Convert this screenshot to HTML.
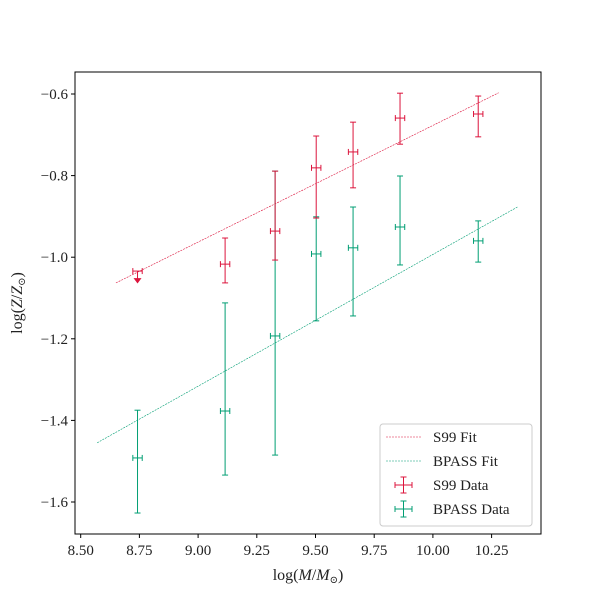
<!DOCTYPE html>
<html><head><meta charset="utf-8"><style>
body{margin:0;background:#fff}
svg text{font-family:"Liberation Serif","DejaVu Serif",serif;fill:#222}
</style></head><body>
<svg id="c" width="600" height="600" xmlns="http://www.w3.org/2000/svg">
<rect x="0" y="0" width="600" height="600" fill="#fff"/>
<g id="plot"></g>
</svg>
<script>
const xs=[8.742,9.115,9.328,9.503,9.66,9.86,10.193];
const s99Y=[-1.034,-1.017,-0.936,-0.781,-0.742,-0.659,-0.649];
const s99Hi=[-1.034,-0.953,-0.789,-0.703,-0.669,-0.598,-0.605];
const s99Lo=[-1.06,-1.063,-1.007,-0.904,-0.830,-0.723,-0.705];
const bpY=[-1.492,-1.377,-1.193,-0.992,-0.977,-0.926,-0.960];
const bpHi=[-1.375,-1.112,-0.789,-0.901,-0.877,-0.801,-0.911];
const bpLo=[-1.627,-1.534,-1.485,-1.156,-1.144,-1.019,-1.012];
const xErr=0.02;
const s99Fit=[[8.65,-1.063],[10.28,-0.597]];
const bpFit=[[8.57,-1.455],[10.36,-0.877]];
const xTicks=[8.5,8.75,9.0,9.25,9.5,9.75,10.0,10.25];
const yTicks=[-0.6,-0.8,-1.0,-1.2,-1.4,-1.6];
const RED="#dc143c",GRN="#009e73";
const X=v=>80.7+(v-8.5)*234.8;
const Y=v=>94+(-0.6-v)*408;
const NS="http://www.w3.org/2000/svg";
const g=document.getElementById('plot');
function mk(t,a,p){const e=document.createElementNS(NS,t);for(const k in a)e.setAttribute(k,a[k]);(p||g).appendChild(e);return e;}
const ax=mk('rect',{x:75,y:72,width:466,height:462,fill:'none',stroke:'#000','stroke-width':1});


xTicks.forEach(v=>{
  const t=mk('line',{x1:X(v),x2:X(v),y1:534,y2:538,stroke:'#000'});
  
  
  const l=mk('text',{x:X(v),y:555,'text-anchor':'middle','font-size':15});
  l.textContent=v.toFixed(2);
  
  
});
yTicks.forEach(v=>{
  const t=mk('line',{x1:71,x2:75,y1:Y(v),y2:Y(v),stroke:'#000'});
  
  
  const l=mk('text',{x:68,y:Y(v)+5,'text-anchor':'end','font-size':15});
  l.textContent='−'+Math.abs(v).toFixed(1);
  
  
});
const xt=mk('text',{x:308,y:580,'text-anchor':'middle','font-size':16});
xt.innerHTML='log(<tspan font-style="italic">M</tspan>/<tspan font-style="italic">M</tspan><tspan font-size="10" dy="3">⊙</tspan><tspan dy="-3">)</tspan>';


const yt=mk('text',{x:0,y:0,'text-anchor':'middle','font-size':16,transform:'translate(22,303) rotate(-90)'});
yt.innerHTML='log(<tspan font-style="italic">Z</tspan>/<tspan font-style="italic">Z</tspan><tspan font-size="10" dy="3">⊙</tspan><tspan dy="-3">)</tspan>';


function fit(f,c,name){
  const l=mk('line',{x1:X(f[0][0]),y1:Y(f[0][1]),x2:X(f[1][0]),y2:Y(f[1][1]),stroke:c,'stroke-width':0.6,'stroke-dasharray':'2,1'});
  
  
}
fit(s99Fit,RED,'s99-fit-line');fit(bpFit,GRN,'bpass-fit-line');
function series(ys,hi,lo,c,name,limitFirst){
  xs.forEach((x,i)=>{
    const grp=mk('g',{stroke:c,'stroke-width':1});
    
    
    const cx=X(x),cy=Y(ys[i]);
    mk('line',{x1:X(x-xErr),x2:X(x+xErr),y1:cy,y2:cy},grp);
    mk('line',{x1:X(x-xErr),x2:X(x-xErr),y1:cy-3,y2:cy+3},grp);
    mk('line',{x1:X(x+xErr),x2:X(x+xErr),y1:cy-3,y2:cy+3},grp);
    if(limitFirst&&i===0){
      mk('line',{x1:cx,x2:cx,y1:cy,y2:Y(lo[i])},grp);
      mk('path',{d:`M${cx-3},${Y(lo[i])-3} L${cx+3},${Y(lo[i])-3} L${cx},${Y(lo[i])+1}Z`,fill:c},grp);
    } else {
      mk('line',{x1:cx,x2:cx,y1:Y(hi[i]),y2:Y(lo[i])},grp);
      mk('line',{x1:cx-3,x2:cx+3,y1:Y(hi[i]),y2:Y(hi[i])},grp);
      mk('line',{x1:cx-3,x2:cx+3,y1:Y(lo[i]),y2:Y(lo[i])},grp);
    }
  });
}
series(bpY,bpHi,bpLo,GRN,'bpass-data',false);
series(s99Y,s99Hi,s99Lo,RED,'s99-data',true);
const lg=mk('g',{});


mk('rect',{x:380,y:424,width:152,height:102,rx:3,fill:'#fff','fill-opacity':0.8,stroke:'#ccc'},lg);
const items=[['S99 Fit',RED,'line'],['BPASS Fit',GRN,'line'],['S99 Data',RED,'err'],['BPASS Data',GRN,'err']];
items.forEach((it,i)=>{
  const y=437+i*24;
  const e=mk('g',{},lg);
  
  
  if(it[2]==='line') mk('line',{x1:386,x2:421,y1:y,y2:y,stroke:it[1],'stroke-width':0.6,'stroke-dasharray':'2,1'},e);
  else{
    mk('line',{x1:395,x2:412,y1:y,y2:y,stroke:it[1]},e);
    mk('line',{x1:395,x2:395,y1:y-3,y2:y+3,stroke:it[1]},e);
    mk('line',{x1:412,x2:412,y1:y-3,y2:y+3,stroke:it[1]},e);
    mk('line',{x1:403.5,x2:403.5,y1:y-8,y2:y+8,stroke:it[1]},e);
    mk('line',{x1:400.5,x2:406.5,y1:y-8,y2:y-8,stroke:it[1]},e);
    mk('line',{x1:400.5,x2:406.5,y1:y+8,y2:y+8,stroke:it[1]},e);
  }
  const t=mk('text',{x:433,y:y+5,'font-size':15},e);
  t.textContent=it[0];
});
</script>
</body></html>
